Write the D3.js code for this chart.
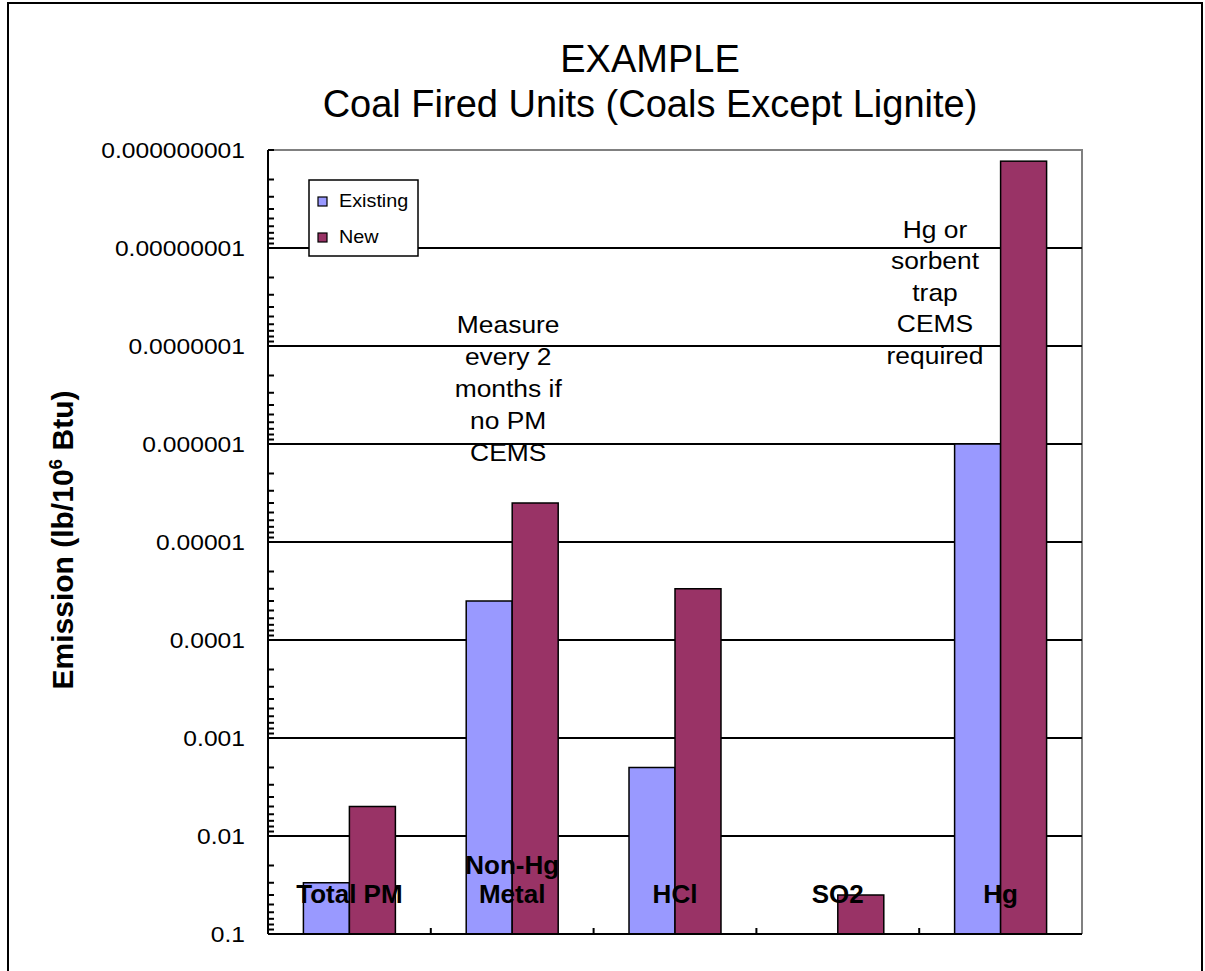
<!DOCTYPE html>
<html>
<head>
<meta charset="utf-8">
<script src="https://cdn.jsdelivr.net/npm/d3@7"></script>
<style>
  html, body { margin: 0; padding: 0; background: #fff; }
  svg { display: block; font-family: Arial, "Liberation Sans", sans-serif; }
</style>
</head>
<body>
<svg id="chart" width="1205" height="971"></svg>
<script>
// Emission limits per pollutant, lb per million Btu
const categories = ["Total PM", "Non-Hg Metal", "HCl", "SO2", "Hg"];
const categoryLines = [["Total PM"], ["Non-Hg", "Metal"], ["HCl"], ["SO2"], ["Hg"]];
const seriesNames = ["Existing", "New"];
const existingValues = [0.03, 0.00004, 0.002, null, 0.000001];
const newValues = [0.005, 0.000004, 0.00003, 0.04, 0.0000000013];
const tickValues = [0.1, 0.01, 0.001, 0.0001, 0.00001, 0.000001, 0.0000001, 0.00000001, 0.000000001];
const tickLabels = ["0.1", "0.01", "0.001", "0.0001", "0.00001", "0.000001", "0.0000001", "0.00000001", "0.000000001"];
const seriesColors = ["#9999FF", "#993366"];
const notePM = ["Measure", "every 2", "months if", "no PM", "CEMS"];
const noteHg = ["Hg or", "sorbent", "trap", "CEMS", "required"];

const svg = d3.select("#chart");
const plot = { left: 268, right: 1082, top: 150, bottom: 934 };

// Outer frame
svg.append("rect")
  .attr("x", 8).attr("y", 3).attr("width", 1194).attr("height", 990)
  .attr("fill", "#fff").attr("stroke", "#000").attr("stroke-width", 2);

// Title
const title = svg.append("text").attr("text-anchor", "middle").attr("font-size", 38).attr("fill", "#000");
title.append("tspan").attr("x", 650).attr("y", 72).text("EXAMPLE");
title.append("tspan").attr("x", 650).attr("y", 117).text("Coal Fired Units (Coals Except Lignite)");

// Scales: reversed log axis, 0.1 at the bottom
const y = d3.scaleLog().domain([0.1, 1e-9]).range([plot.bottom, plot.top]);
const x0 = d3.scaleBand().domain(categories).range([plot.left, plot.right])
  .paddingInner(0.435).paddingOuter(0.2175);
const x1 = d3.scaleBand().domain(seriesNames).range([0, x0.bandwidth()]);

// Plot border (top & right grey)
svg.append("path")
  .attr("d", `M${plot.left},${plot.top}H${plot.right}V${plot.bottom}`)
  .attr("fill", "none").attr("stroke", "#808080").attr("stroke-width", 2);

// Gridlines at each decade
svg.append("g").selectAll("line")
  .data(tickValues.filter(v => v < 0.1 && v > 1e-9))
  .join("line")
  .attr("x1", plot.left).attr("x2", plot.right)
  .attr("y1", d => y(d)).attr("y2", d => y(d))
  .attr("stroke", "#000").attr("stroke-width", 2);

// Bars
const seriesData = [existingValues, newValues];
const barG = svg.append("g");
categories.forEach((cat, i) => {
  seriesNames.forEach((s, j) => {
    const v = seriesData[j][i];
    if (v == null) return;
    barG.append("rect")
      .attr("x", x0(cat) + x1(s))
      .attr("y", y(v))
      .attr("width", x1.bandwidth())
      .attr("height", y(0.1) - y(v))
      .attr("fill", seriesColors[j])
      .attr("stroke", "#000").attr("stroke-width", 1.5);
  });
});

// Y axis line with log minor ticks pointing into the plot
const axisG = svg.append("g");
const minorTicks = [];
for (let e = -9; e < -1; e++) {
  for (let k = 1; k < 10; k++) minorTicks.push(k * Math.pow(10, e));
}
minorTicks.push(0.1);
axisG.selectAll("line.tick").data(minorTicks).join("line")
  .attr("class", "tick")
  .attr("x1", plot.left).attr("x2", plot.left + 6)
  .attr("y1", d => y(d)).attr("y2", d => y(d))
  .attr("stroke", "#000").attr("stroke-width", 2);
axisG.append("line")
  .attr("x1", plot.left).attr("x2", plot.left)
  .attr("y1", plot.top).attr("y2", plot.bottom)
  .attr("stroke", "#000").attr("stroke-width", 2);

// Y tick labels
axisG.selectAll("text.lab").data(tickValues).join("text")
  .attr("class", "lab")
  .attr("transform", d => `translate(245,${y(d) + 8}) scale(1.12,1)`)
  .attr("text-anchor", "end").attr("font-size", 22).attr("fill", "#000")
  .text((d, i) => tickLabels[i]);

// X axis line with category separators
svg.append("line")
  .attr("x1", plot.left).attr("x2", plot.right)
  .attr("y1", plot.bottom).attr("y2", plot.bottom)
  .attr("stroke", "#000").attr("stroke-width", 2);
svg.append("g").selectAll("line").data(categories.slice(1)).join("line")
  .attr("x1", d => x0(d) - x0.step() * x0.paddingInner() / 2)
  .attr("x2", d => x0(d) - x0.step() * x0.paddingInner() / 2)
  .attr("y1", plot.bottom).attr("y2", plot.bottom - 6)
  .attr("stroke", "#000").attr("stroke-width", 2);

// Category labels inside the plot, bottom aligned
categories.forEach((cat, i) => {
  const lines = categoryLines[i];
  const cx = x0(cat) + x0.bandwidth() / 2;
  const t = svg.append("text").attr("text-anchor", "middle")
    .attr("font-size", 26).attr("font-weight", "bold").attr("fill", "#000");
  lines.forEach((ln, k) => {
    t.append("tspan").attr("x", cx).attr("y", 903 - (lines.length - 1 - k) * 29).text(ln);
  });
});

// Annotations
function note(lines, cx, y0, step) {
  const g = svg.append("g").attr("transform", `translate(${cx},0)`);
  lines.forEach((ln, k) => {
    g.append("text").attr("text-anchor", "middle")
      .attr("transform", `translate(0,${y0 + k * step}) scale(1.1,1)`)
      .attr("font-size", 24).attr("fill", "#000").text(ln);
  });
}
note(notePM, x0("Non-Hg Metal") + x0.bandwidth() / 2 - 4, 333, 32);
note(noteHg, 935, 237.5, 31.5);

// Y axis title
const yt = svg.append("text")
  .attr("transform", "translate(73,540) rotate(-90)")
  .attr("text-anchor", "middle").attr("font-size", 30).attr("font-weight", "bold").attr("fill", "#000");
yt.append("tspan").text("Emission (lb/10");
yt.append("tspan").attr("font-size", 19).attr("dy", -11).text("6");
yt.append("tspan").attr("dy", 11).text(" Btu)");

// Legend
const lg = svg.append("g").attr("transform", "translate(309,180)");
lg.append("rect").attr("width", 109).attr("height", 76)
  .attr("fill", "#fff").attr("stroke", "#000").attr("stroke-width", 1.5);
seriesNames.forEach((s, j) => {
  const yy = 20 + j * 36;
  lg.append("rect").attr("x", 9).attr("y", yy - 3).attr("width", 9).attr("height", 9)
    .attr("fill", seriesColors[j]).attr("stroke", "#000").attr("stroke-width", 1.2);
  lg.append("text").attr("transform", `translate(30,${yy + 7}) scale(1.1,1)`)
    .attr("font-size", 18).attr("fill", "#000").text(s);
});
</script>
</body>
</html>
